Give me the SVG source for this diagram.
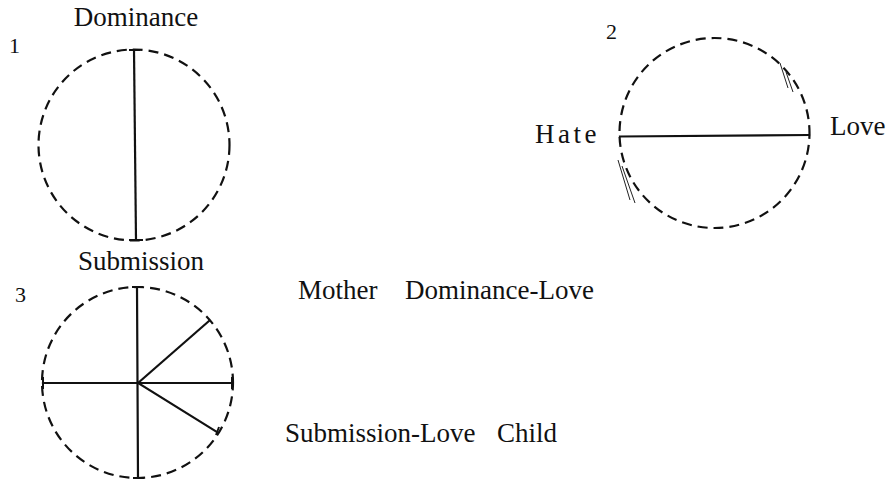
<svg xmlns="http://www.w3.org/2000/svg" width="886" height="480" viewBox="0 0 886 480">
<style>
text{font-family:'Liberation Serif','DejaVu Serif',serif;fill:#111}
.t{font-size:27px}
.n{font-size:22px}
.dc{fill:none;stroke:#111;stroke-width:2.2;stroke-dasharray:10 6}
.ln{stroke:#111;stroke-width:2.2;fill:none;stroke-linecap:square}
.tk{stroke:#111;stroke-width:2;fill:none}
.th{stroke:#222;stroke-width:1;fill:none}
</style>
<rect width="886" height="480" fill="#fff"/>
<g id="fig1">
<text class="n" x="9" y="53" font-family="Liberation Serif">1</text>
<text class="t" x="136" y="26" text-anchor="middle" font-family="Liberation Serif">Dominance</text>
<circle class="dc" cx="134" cy="145" r="95.5"/>
<line class="ln" x1="134" y1="50" x2="136" y2="240"/>
<line class="tk" x1="129" y1="50" x2="140" y2="50"/>
<line class="tk" x1="129" y1="240" x2="143" y2="240"/>
<text class="t" x="141" y="270" text-anchor="middle" font-family="Liberation Serif">Submission</text>
</g>
<g id="fig2">
<text class="n" x="606" y="39" font-family="Liberation Serif">2</text>
<circle class="dc" cx="714.5" cy="133" r="95" stroke-dasharray="13 7" stroke-dashoffset="4"/>
<line class="ln" x1="620" y1="136.5" x2="809" y2="135"/>
<line class="th" x1="780" y1="63" x2="788" y2="88"/>
<line class="th" x1="786" y1="72" x2="793" y2="92"/>
<line class="th" x1="618" y1="160" x2="630" y2="200"/>
<line class="th" x1="622" y1="166" x2="635" y2="203"/>
<text class="t" x="535" y="143" letter-spacing="3.5" font-family="Liberation Serif">Hate</text>
<text class="t" x="830" y="135" font-family="Liberation Serif">Love</text>
</g>
<g id="fig3">
<text class="n" x="15" y="302" font-family="Liberation Serif">3</text>
<circle class="dc" cx="137.5" cy="382.5" r="95.5" stroke-dashoffset="2"/>
<line class="ln" x1="137" y1="287" x2="138" y2="478"/>
<line class="ln" x1="43" y1="383" x2="232" y2="383"/>
<line class="ln" x1="138" y1="383" x2="209" y2="321"/>
<line class="ln" x1="138" y1="383" x2="217" y2="432"/>
<line class="tk" x1="132" y1="287" x2="143" y2="287"/>
<line class="tk" x1="133" y1="478" x2="144" y2="478"/>
<line class="tk" x1="43" y1="377" x2="43" y2="389"/>
<line class="tk" x1="232" y1="377" x2="232" y2="389"/>
<line class="tk" x1="219" y1="427" x2="216" y2="435"/>
</g>
<g id="labels">
<text class="t" x="298" y="299" font-family="Liberation Serif">Mother</text>
<text class="t" x="405" y="299" font-family="Liberation Serif">Dominance-Love</text>
<text class="t" x="285" y="442" font-family="Liberation Serif">Submission-Love</text>
<text class="t" x="497" y="442" font-family="Liberation Serif">Child</text>
</g>
<g id="connectors"></g>
</svg>
